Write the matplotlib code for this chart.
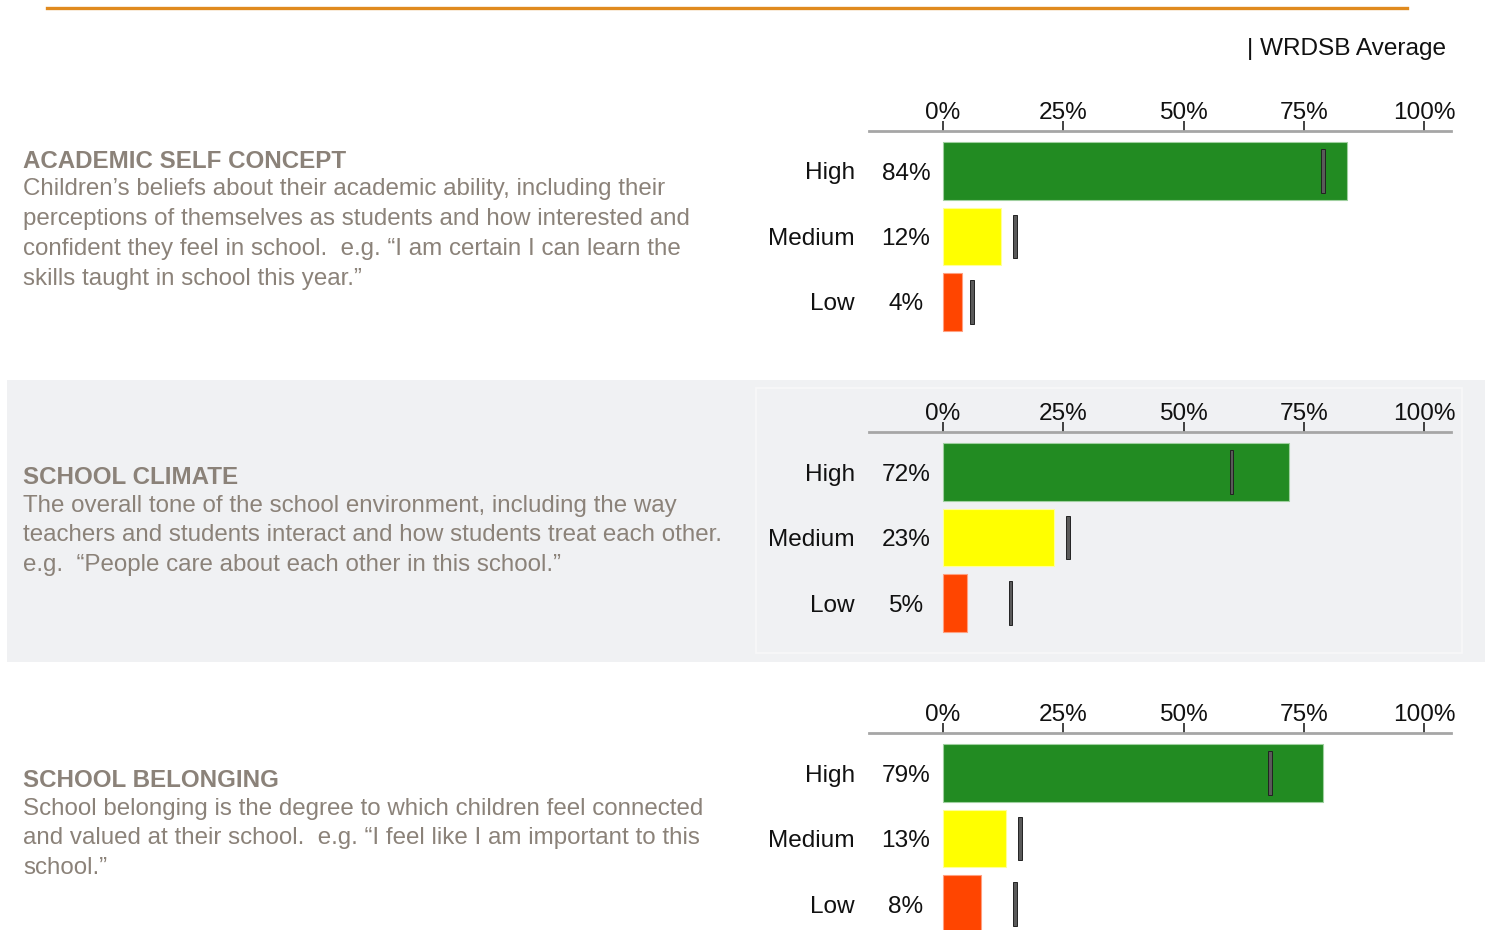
import matplotlib
matplotlib.use("Agg")
import matplotlib.pyplot as plt
from matplotlib.patches import Rectangle
from matplotlib.lines import Line2D

plt.rcParams['font.family'] = ['Liberation Sans', 'DejaVu Sans']

# ---- data ----
levels = ["High", "Medium", "Low"]
bar_colors = ["#228B22", "#FFFF00", "#FF4500"]
tick_values = [0, 25, 50, 75, 100]
tick_labels = ["0%", "25%", "50%", "75%", "100%"]

titles = ["ACADEMIC SELF CONCEPT", "SCHOOL CLIMATE", "SCHOOL BELONGING"]
descriptions = [
    ["Children\u2019s beliefs about their academic ability, including their",
     "perceptions of themselves as students and how interested and",
     "confident they feel in school.  e.g. \u201cI am certain I can learn the",
     "skills taught in school this year.\u201d"],
    ["The overall tone of the school environment, including the way",
     "teachers and students interact and how students treat each other.",
     "e.g.  \u201cPeople care about each other in this school.\u201d"],
    ["School belonging is the degree to which children feel connected",
     "and valued at their school.  e.g. \u201cI feel like I am important to this",
     "school.\u201d"],
]
school_pct = [
    [84, 12, 4],
    [72, 23, 5],
    [79, 13, 8],
]
board_avg = [
    [79, 15, 6],
    [60, 26, 14],
    [68, 16, 15],
]

# ---- layout ----
W, H = 1486, 930
fig = plt.figure(figsize=(W / 100, H / 100), dpi=100)
fig.patch.set_facecolor("white")

def fx(px):
    return px / W

def fy(py):
    return 1 - py / H

text_gray = "#8b8279"
fs = 17.4
fs_chart = 17.6

# top rule
fig.add_artist(Line2D([fx(47), fx(1407)], [fy(8), fy(8)], color="#E08A1E",
                      lw=2.4, transform=fig.transFigure))
fig.text(fx(1446), fy(49), "| WRDSB Average", ha="right", va="center",
         fontsize=fs_chart, color="#111111")

# shaded middle panel
fig.add_artist(Rectangle((fx(7), fy(662)), fx(1485) - fx(7), fy(380) - fy(662),
                         transform=fig.transFigure, facecolor="#F0F1F3",
                         edgecolor="none", zorder=0))
fig.add_artist(Rectangle((fx(756), fy(653)), fx(1462) - fx(756), fy(388) - fy(653),
                         transform=fig.transFigure, facecolor="none",
                         edgecolor="#F8F8F9", lw=1.2, zorder=0.5))

x0_px, x100_px = 943, 1424
px_per_unit = (x100_px - x0_px) / 100
ax_left_px, ax_right_px = 869, 1451
row_px = 65.5
xmin = (ax_left_px - x0_px) / px_per_unit
xmax = (ax_right_px - x0_px) / px_per_unit
ytop = -40 / row_px
ybot = 2.5
label_dy = 2.5 / row_px

for s in range(3):
    line_y = 131 + 301 * s
    bottom_px = line_y + (ybot - ytop) * row_px
    ax = fig.add_axes([fx(ax_left_px), fy(bottom_px), fx(ax_right_px) - fx(ax_left_px),
                       fy(line_y) - fy(bottom_px)])
    ax.set_facecolor("none")
    ax.set_xlim(xmin, xmax)
    ax.set_ylim(ybot, ytop)
    ys = list(range(len(levels)))

    ax.barh(ys, school_pct[s], height=0.885, color=bar_colors,
            edgecolor=["#9fd09f", "#ffff99", "#ffa080"], linewidth=0.8, zorder=2)
    mark_w = 0.75
    ax.barh(ys, [mark_w] * 3, left=[v - mark_w / 2 for v in board_avg[s]],
            height=0.67, color="#5a5a5a", edgecolor="#222222", linewidth=0.7, zorder=3)

    for y, lab, v in zip(ys, levels, school_pct[s]):
        ax.text((855 - x0_px) / px_per_unit, y + label_dy, lab, ha="right", va="center",
                fontsize=fs_chart, color="#111111", clip_on=False)
        ax.text((906 - x0_px) / px_per_unit, y + label_dy, f"{v}%", ha="center", va="center",
                fontsize=fs_chart, color="#111111", clip_on=False)

    for side in ["left", "right", "bottom"]:
        ax.spines[side].set_visible(False)
    ax.spines["top"].set_color("#A6A6A6")
    ax.spines["top"].set_linewidth(2.0)
    ax.xaxis.tick_top()
    ax.set_xticks(tick_values)
    ax.set_xticklabels(tick_labels)
    ax.tick_params(axis="x", direction="out", length=7, width=1.2, color="#222222",
                   labelsize=fs_chart, labelcolor="#111111", pad=-1.8)
    ax.set_yticks([])

    # description block
    title_y = [161, 477, 780][s]
    fig.text(fx(23), fy(title_y), titles[s], ha="left", va="center",
             fontsize=fs, fontweight="bold", color=text_gray)
    for i, line in enumerate(descriptions[s]):
        fig.text(fx(23), fy(title_y + 28.5 + 29.7 * i), line, ha="left", va="center",
                 fontsize=fs, color=text_gray)

fig.savefig("out.png", dpi=100, facecolor=fig.get_facecolor())
